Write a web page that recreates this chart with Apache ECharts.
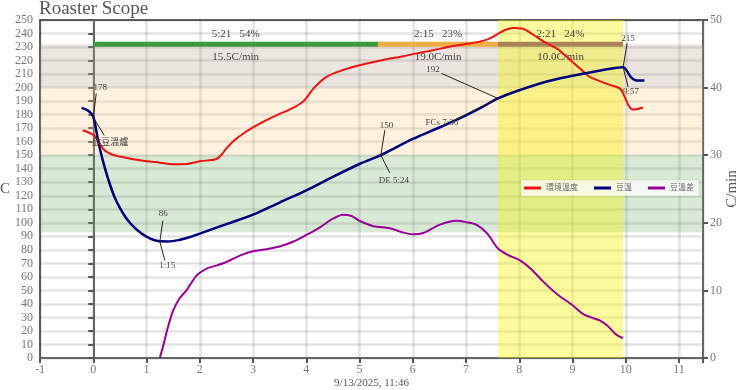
<!DOCTYPE html>
<html><head><meta charset="utf-8">
<script src="https://cdn.jsdelivr.net/npm/echarts@6/dist/echarts.min.js"></script>
<style>html,body{margin:0;padding:0;background:#fff}#c{width:740px;height:390px}</style>
</head><body><div id="c"></div>
<script>
// ---- data ----
const seriesNames = ['環境溫度', '豆溫', '豆溫差'];
const etData = [[-0.2,168.5],[0,165],[0.1,160],[0.2,154],[0.35,150.5],[0.5,149],[0.75,147],[1.0,145.5],[1.25,144.5],[1.5,143.3],[1.75,143.5],[2.0,145.5],[2.3,147],[2.4,150],[2.5,155],[2.65,161],[2.8,165.5],[3.0,170.5],[3.25,176],[3.5,180.5],[3.75,185],[3.95,190],[4.15,200],[4.38,208],[4.69,213],[5.0,216.5],[5.44,220.4],[5.8,223],[6.07,225.3],[6.4,227.8],[6.69,230.2],[7.0,232.2],[7.26,234],[7.45,236.4],[7.63,240.5],[7.76,243],[7.9,244],[8.05,243.8],[8.15,242],[8.32,237.6],[8.5,233],[8.7,229],[8.82,225.3],[9.0,219],[9.14,214.2],[9.32,208],[9.5,205],[9.7,202],[9.89,199.4],[9.97,194],[10.05,187],[10.12,183.8],[10.2,184],[10.32,185.3]];
const btData = [[-0.22,185],[-0.1,183],[0,178.5],[0.1,159],[0.2,143],[0.3,130],[0.4,119],[0.5,111],[0.6,104.5],[0.7,99.5],[0.8,95.5],[0.9,92.3],[1.0,89.8],[1.1,87.8],[1.25,86.3],[1.4,86.2],[1.6,87.2],[1.8,89.3],[2.0,92],[2.5,99],[3.0,106],[3.5,115],[4.0,124],[4.5,134],[5.0,143.5],[5.4,150],[6.0,162],[6.5,170.5],[7.0,179.5],[7.3,185.5],[7.6,192],[8.0,198],[8.5,204.3],[9.0,208.7],[9.5,212.5],[9.8,214.5],[9.95,215],[10.02,212.5],[10.1,207.5],[10.2,205.3],[10.35,205.3]];
const rorData = [[1.25,0],[1.32,2],[1.4,4.5],[1.5,7],[1.62,8.8],[1.75,10],[1.9,11.8],[2.0,12.6],[2.15,13.3],[2.32,13.7],[2.5,14.2],[2.63,14.7],[2.8,15.3],[3.0,15.8],[3.25,16.1],[3.5,16.5],[3.75,17.2],[4.0,18.2],[4.25,19.3],[4.5,20.6],[4.69,21.2],[4.85,21],[5.0,20.3],[5.26,19.5],[5.57,19.2],[5.8,18.6],[6.0,18.3],[6.2,18.5],[6.5,19.7],[6.82,20.3],[7.0,20.1],[7.2,19.7],[7.4,18.4],[7.6,16.2],[7.8,15.2],[8.0,14.5],[8.2,13.3],[8.45,11.3],[8.7,9.5],[9.0,7.8],[9.2,6.5],[9.35,6],[9.5,5.6],[9.65,4.8],[9.8,3.6],[9.9,3.1],[9.95,3.0]];
const eventTimes = [0, 1.25, 5.4, 7.6, 9.95];
const eventTemps = [178, 86, 150, 192, 215];
const eventUpperText = ['178', '86', '150', '192', '215'];
const eventLowerText = ['放豆溫爐', '1:15', 'DE 5:24', 'FCs 7:36', '9:57'];
const phaseBounds = [0, 5.35, 7.6, 9.95];
const phaseTimeLabels = ['5:21   54%', '2:15   23%', '2:21   24%'];
const phaseRorLabels = ['15.5C/min', '19.0C/min', '10.0C/min'];
const tempZones = [[200, 232], [150, 200], [93, 150]];
const devZone = [7.6, 9.95];
const titleText = 'Roaster Scope';
const dateText = '9/13/2025, 11:46';

// ---- styles / layout ----
const X_MIN = -1, X_MAX = 11.45, Y_MAX = 250, ROR_MAX = 50, BAR_LEVEL = 232;
const SERIF = "'Liberation Serif','DejaVu Serif','Noto Sans CJK TC',serif";
const zoneColors = ['rgba(180,160,140,0.27)', 'rgba(250,200,120,0.25)', 'rgba(100,170,90,0.25)'];
const devColor = 'rgba(245,245,0,0.38)';
const phaseColors = ['#3c9a3c', '#f0ac40', '#a88458'];
const lineColors = ['#ee1111', '#00007f', '#990099'];
const annotOffsets = [
  {ul:[3,-24], ut:[7,-30], dl:[11,18], dt:[17,25]},
  {ul:[3,-21], ut:[3.5,-28], dl:[5,18.5], dt:[7.5,24]},
  {ul:[4,-25], ut:[5.7,-30], dl:[9,17.7], dt:[13,25]},
  {ul:[-56.5,-25], ut:[-65,-29], dl:[-44,22], dt:[-56,24.4]},
  {ul:[4,-24], ut:[5,-29], dl:[5,19.5], dt:[8,24.5]}
];

const bandItems = tempZones.map((z, i) => [X_MIN, X_MAX, z[0], z[1], i]);
bandItems.push([devZone[0], devZone[1], 0, Y_MAX, 3]);

function txt(text, x, y, size, color) {
  return {type: 'text', style: {text: text, x: x, y: y, font: size + 'px ' + SERIF, fill: color,
    align: 'center', verticalAlign: 'middle', textAlign: 'center', textVerticalAlign: 'middle'}};
}

const chart = echarts.init(document.getElementById('c'), null, {renderer: 'canvas'});
const axisLineStyle = {color: '#666', width: 2};
chart.setOption({
  animation: false,
  backgroundColor: '#fff',
  title: {text: titleText, left: 39, top: 0, padding: 0,
    textStyle: {fontFamily: SERIF, fontSize: 19, fontWeight: 'normal', color: '#555'}},
  legend: {data: seriesNames, left: 521, top: 180, padding: [4, 5, 4, 3], itemGap: 16,
    itemWidth: 17, itemHeight: 3, icon: 'rect',
    backgroundColor: 'rgba(255,255,255,0.72)', borderColor: 'rgba(0,0,0,0.07)', borderWidth: 1,
    textStyle: {fontFamily: SERIF, fontSize: 8, color: '#666'}},
  grid: {left: 40, right: 37, top: 20, bottom: 32, outerBoundsMode: 'none', containLabel: false,
    show: true, borderColor: '#666', borderWidth: 2, backgroundColor: 'transparent'},
  xAxis: {type: 'value', min: X_MIN, max: X_MAX, interval: 1,
    name: dateText, nameLocation: 'middle', nameGap: 20, nameMoveOverlap: false,
    nameTextStyle: {fontFamily: SERIF, fontSize: 11, color: '#555'},
    axisLine: {lineStyle: axisLineStyle}, axisTick: {length: 5, lineStyle: {color: '#555', width: 2}},
    axisLabel: {margin: 6, fontFamily: SERIF, fontSize: 12, color: '#777',
      formatter: v => Number.isInteger(v) ? String(v) : ''},
    splitLine: {show: true, lineStyle: {color: 'rgba(0,0,0,0.11)', width: 2.5}}},
  yAxis: [
    {type: 'value', min: 0, max: Y_MAX, interval: 10, name: 'C', nameLocation: 'middle', nameGap: 30, nameRotate: 0,
      nameMoveOverlap: false,
      nameTextStyle: {fontFamily: SERIF, fontSize: 15, color: '#555'},
      axisLine: {show: true, lineStyle: axisLineStyle}, axisTick: {show: true, length: 5, lineStyle: {color: '#555', width: 2}},
      axisLabel: {margin: 7, fontFamily: SERIF, fontSize: 12, color: '#777'},
      splitLine: {show: true, lineStyle: {color: 'rgba(0,0,0,0.11)', width: 2.5}}},
    {type: 'value', min: 0, max: ROR_MAX, interval: 10, name: 'C/min', nameLocation: 'middle', nameGap: 22, nameRotate: 90,
      nameMoveOverlap: false,
      nameTextStyle: {fontFamily: SERIF, fontSize: 15, color: '#555'},
      axisLine: {show: true, lineStyle: axisLineStyle}, axisTick: {show: true, length: 5, lineStyle: {color: '#555', width: 2}},
      axisLabel: {margin: 7, fontFamily: SERIF, fontSize: 12, color: '#777'},
      splitLine: {show: false}}
  ],
  series: [
    {type: 'custom', name: 'bands', silent: true, z: 1, xAxisIndex: 0, yAxisIndex: 0,
      data: bandItems, encode: {x: [0, 1], y: [2, 3]},
      renderItem: (params, api) => {
        const p0 = api.coord([api.value(0), api.value(3)]);
        const p1 = api.coord([api.value(1), api.value(2)]);
        const ci = api.value(4);
        return {type: 'rect', shape: {x: p0[0], y: p0[1], width: p1[0] - p0[0], height: p1[1] - p0[1]},
          style: {fill: ci < 3 ? zoneColors[ci] : devColor}};
      }},
    {type: 'custom', name: 'phases', silent: true, z: 3, xAxisIndex: 0, yAxisIndex: 0,
      data: phaseTimeLabels.map((s, i) => [phaseBounds[i], phaseBounds[i + 1], i]), encode: {x: [0, 1]},
      renderItem: (params, api) => {
        const i = api.value(2);
        const a = api.coord([api.value(0), BAR_LEVEL]);
        const b = api.coord([api.value(1), BAR_LEVEL]);
        const mx = (a[0] + b[0]) / 2;
        return {type: 'group', children: [
          {type: 'line', shape: {x1: a[0], y1: a[1], x2: b[0], y2: b[1]}, style: {stroke: phaseColors[i], lineWidth: 5}},
          txt(phaseTimeLabels[i], mx, a[1] - 10.5, 11, '#444'),
          txt(phaseRorLabels[i], mx, a[1] + 13, 11, '#444')
        ]};
      }},
    {type: 'line', name: seriesNames[0], data: etData, smooth: 0.3, showSymbol: false, z: 4,
      lineStyle: {color: lineColors[0], width: 2}, itemStyle: {color: lineColors[0]}},
    {type: 'line', name: seriesNames[1], data: btData, smooth: 0.3, showSymbol: false, z: 5,
      lineStyle: {color: lineColors[1], width: 2.5}, itemStyle: {color: lineColors[1]}},
    {type: 'line', name: seriesNames[2], data: rorData, yAxisIndex: 1, smooth: 0.3, showSymbol: false, z: 4,
      lineStyle: {color: lineColors[2], width: 2}, itemStyle: {color: lineColors[2]}},
    {type: 'custom', name: 'events', silent: true, z: 6, xAxisIndex: 0, yAxisIndex: 0,
      data: eventTimes.map((t, i) => [t, eventTemps[i], i]), encode: {x: 0, y: 1},
      renderItem: (params, api) => {
        const i = api.value(2);
        const p = api.coord([api.value(0), api.value(1)]);
        const o = annotOffsets[i];
        const ls = {stroke: '#222', lineWidth: 1};
        return {type: 'group', children: [
          {type: 'line', shape: {x1: p[0], y1: p[1], x2: p[0] + o.ul[0], y2: p[1] + o.ul[1]}, style: ls},
          {type: 'line', shape: {x1: p[0], y1: p[1], x2: p[0] + o.dl[0], y2: p[1] + o.dl[1]}, style: ls},
          txt(eventUpperText[i], p[0] + o.ut[0], p[1] + o.ut[1], 9, '#444'),
          txt(eventLowerText[i], p[0] + o.dt[0], p[1] + o.dt[1], 9, '#444')
        ]};
      }}
  ]
});
</script></body></html>
